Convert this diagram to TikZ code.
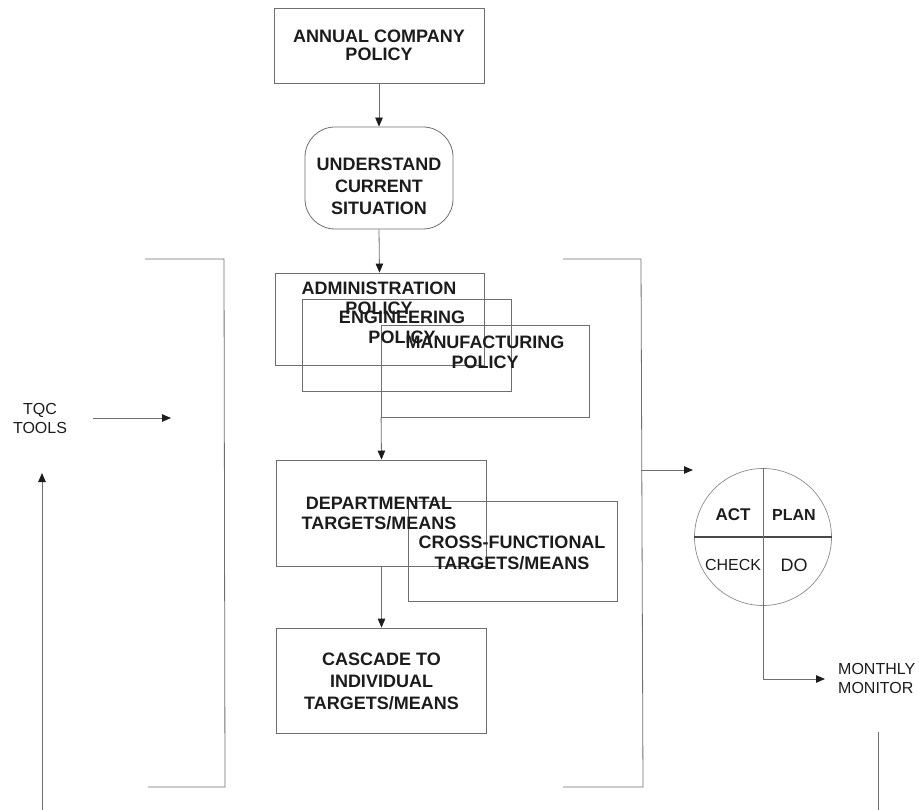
\documentclass[tikz,border=0pt]{standalone}
\usepackage{fontspec}
\setmainfont{Liberation Sans}
\usetikzlibrary{arrows.meta}
\definecolor{linec}{HTML}{6E6E6E}
\definecolor{textc}{HTML}{1C1C1C}
\tikzset{
  boxn/.style={draw=linec, line width=0.8pt, rectangle, inner sep=0pt},
  maintxt/.style={font=\bfseries\fontsize{18}{21}\selectfont, align=center, text=textc, inner sep=0pt},
  smalltxt/.style={font=\fontsize{16}{19}\selectfont, text=textc, inner sep=0pt},
  conn/.style={draw=linec, line width=0.8pt},
  arr/.style={conn, -{Triangle[length=9pt,width=7.5pt,color=textc]}}
}
\begin{document}
\begin{tikzpicture}[x=1pt,y=-1pt]
\useasboundingbox (0,0) rectangle (919,810);

% top column
\node[boxn, minimum width=210pt, minimum height=75pt] (annual) at (379,45.5) {};
\node[maintxt, font=\bfseries\fontsize{18}{18}\selectfont] (annualT) at (379,45) {ANNUAL COMPANY\\POLICY};

\node[boxn, minimum width=148pt, minimum height=102pt, rounded corners=30pt] (underst) at (379,178) {};
\node[maintxt, font=\bfseries\fontsize{18}{22}\selectfont] (understT) at (379,186) {UNDERSTAND\\CURRENT\\SITUATION};

\node[boxn, minimum width=209pt, minimum height=92pt] (admin) at (379.5,319) {};
\node[boxn, minimum width=209pt, minimum height=92pt] (eng) at (406.5,345) {};
\node[boxn, minimum width=208pt, minimum height=92pt] (manuf) at (485.5,371) {};
\node[maintxt, font=\bfseries\fontsize{18}{20}\selectfont] (adminT) at (379,298) {ADMINISTRATION\\POLICY};
\node[maintxt, font=\bfseries\fontsize{18}{20}\selectfont] (engT) at (402,327) {ENGINEERING\\POLICY};
\node[maintxt, font=\bfseries\fontsize{18}{20}\selectfont] (manufT) at (485,352) {MANUFACTURING\\POLICY};

\node[boxn, minimum width=210pt, minimum height=106pt] (dept) at (381.5,513) {};
\node[boxn, minimum width=209pt, minimum height=100pt] (cross) at (512.5,551) {};
\node[maintxt, font=\bfseries\fontsize{18}{20}\selectfont] (deptT) at (379,513) {DEPARTMENTAL\\TARGETS/MEANS};
\node[maintxt, font=\bfseries\fontsize{18}{21}\selectfont] (crossT) at (512,553) {CROSS-FUNCTIONAL\\TARGETS/MEANS};

\node[boxn, minimum width=210pt, minimum height=105pt] (cascade) at (381.5,680.5) {};
\node[maintxt, font=\bfseries\fontsize{18}{22}\selectfont] (cascadeT) at (381.5,681) {CASCADE TO\\INDIVIDUAL\\TARGETS/MEANS};

\draw[arr] (annual.south) -- (underst.north);
\draw[arr] (underst.south) -- (admin.north);
\draw[arr] (manuf.south west) -- (dept.north);
\draw[arr] (dept.south) -- (cascade.north);

% left side
\coordinate (lbA) at (145,259);
\coordinate (lbB) at (224,259);
\coordinate (lbC) at (225,787);
\coordinate (lbD) at (148,787);
\draw[conn] (lbA) -- (lbB) -- (lbC) -- (lbD);

\node[smalltxt, align=center] (tqc) at (40,418) {TQC\\TOOLS};
\coordinate (tqcA) at (93,418);
\coordinate (tqcB) at (171,418);
\draw[arr] (tqcA) -- (tqcB);
\coordinate (upA) at (42,810);
\coordinate (upB) at (42,473);
\draw[arr] (upA) -- (upB);

% right side
\coordinate (rbA) at (563,259);
\coordinate (rbB) at (641,259);
\coordinate (rbC) at (643,787);
\coordinate (rbD) at (563,787);
\draw[conn] (rbA) -- (rbB) -- (rbC) -- (rbD);
\coordinate (rbM) at (641,470);
\coordinate (rbT) at (693,470);
\draw[arr] (rbM) -- (rbT);

\node[circle, draw=linec!80, line width=0.7pt, minimum size=137pt, inner sep=0pt] (pdca) at (763,537) {};
\draw[draw=textc!80, line width=1.3pt] (pdca.west) -- (pdca.east);
\draw[conn] (pdca.north) -- (pdca.south);
\node[maintxt, font=\bfseries\fontsize{17}{20}\selectfont] (act) at (733,515) {ACT};
\node[maintxt, font=\bfseries\fontsize{16}{20}\selectfont] (plan) at (794,515) {PLAN};
\node[smalltxt] (check) at (733,565) {CHECK};
\node[maintxt, font=\fontsize{18}{20}\selectfont] (do) at (794,565) {DO};

\coordinate (mmA) at (825,679);
\draw[arr] (pdca.south) |- (mmA);
\node[smalltxt, align=left, anchor=west] (monthly) at (838,678) {MONTHLY\\MONITOR};
\coordinate (rlA) at (878,732);
\coordinate (rlB) at (878,810);
\draw[conn] (rlA) -- (rlB);
\end{tikzpicture}
\end{document}
